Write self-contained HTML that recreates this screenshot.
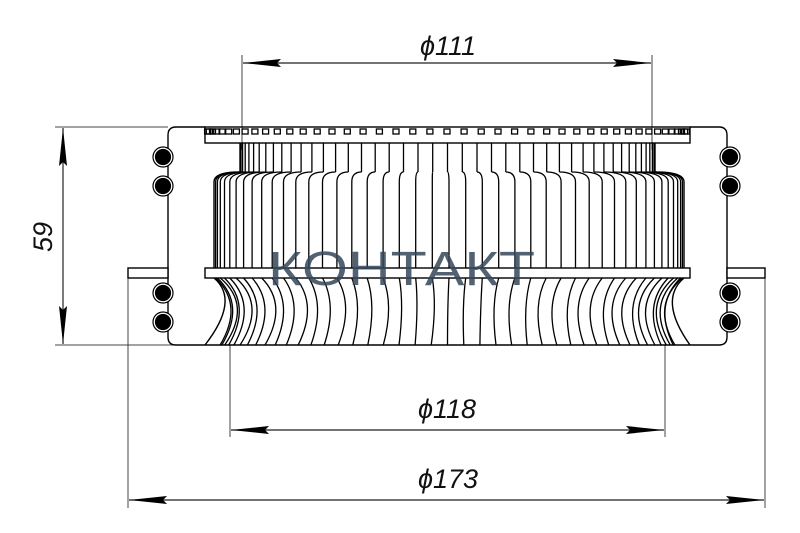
<!DOCTYPE html>
<html><head><meta charset="utf-8"><style>
html,body{margin:0;padding:0;background:#fff;width:800px;height:533px;overflow:hidden}
svg{display:block}
.t{font-family:"Liberation Sans",sans-serif;font-style:italic;font-size:27px;fill:#111}
</style></head><body>
<svg id="s" width="800" height="533" viewBox="0 0 800 533" xmlns="http://www.w3.org/2000/svg">
<defs>
<marker id="a" viewBox="0 0 38 8" refX="38" refY="4" markerWidth="38" markerHeight="8" markerUnits="userSpaceOnUse" orient="auto-start-reverse"><path d="M38,4 L0,0 L4,4 L0,8 Z" fill="#000"/></marker>
</defs>
<g stroke="#444" stroke-width="1" fill="none">
<line x1="242" y1="55" x2="242" y2="150"/><line x1="652" y1="55" x2="652" y2="150"/>
<line x1="55" y1="127" x2="168" y2="127"/><line x1="55" y1="345" x2="205" y2="345"/>
<line x1="230" y1="345" x2="230" y2="437"/><line x1="665" y1="345" x2="665" y2="437"/>
<line x1="128" y1="278" x2="128" y2="508"/><line x1="765" y1="278" x2="765" y2="508"/>
</g>
<g stroke="#222" stroke-width="1.2" fill="none">
<line x1="243" y1="63" x2="651" y2="63" marker-start="url(#a)" marker-end="url(#a)"/>
<line x1="63" y1="128" x2="63" y2="344" marker-start="url(#a)" marker-end="url(#a)"/>
<line x1="231" y1="430" x2="664" y2="430" marker-start="url(#a)" marker-end="url(#a)"/>
<line x1="129" y1="500" x2="764" y2="500" marker-start="url(#a)" marker-end="url(#a)"/>
</g>
<text class="t" x="420" y="55">ϕ111</text>
<text class="t" x="418" y="418">ϕ118</text>
<text class="t" x="418" y="488">ϕ173</text>
<text class="t" transform="translate(52,237) rotate(-90)" text-anchor="middle">59</text>
<g id="body" stroke="#000" stroke-width="1.4" fill="none">
<path d="M205,127 H176 Q168,127 168,135 V337 Q168,345 176,345 H205" fill="#fff"/>
<path d="M690,127 H719 Q727,127 727,135 V337 Q727,345 719,345 H690" fill="#fff"/>
<rect x="128" y="268" width="40" height="10" fill="#fff"/>
<rect x="727" y="268" width="38" height="10" fill="#fff"/>
<rect x="205" y="127" width="485" height="16"/>
<rect x="205" y="268" width="485" height="10"/>
<line x1="205" y1="345" x2="690" y2="345"/>
<path d="M240,143 V172 Q214,172 214,182 V268"/>
<path d="M655,143 V172 Q684,172 684,182 V268"/>
<path d="M214,278 Q240,300 205,345"/>
<path d="M684,278 Q658,300 690,345"/>
</g>
<g id="lines" stroke="#000" stroke-width="1.3" fill="none"></g>
<g fill="#000" stroke="#000" stroke-width="1.2">
<circle cx="163" cy="157" r="10" fill="#fff"/><circle cx="163" cy="186" r="10" fill="#fff"/><circle cx="163" cy="293" r="10" fill="#fff"/><circle cx="163" cy="322" r="10" fill="#fff"/>
<circle cx="730" cy="157" r="10" fill="#fff"/><circle cx="730" cy="186" r="10" fill="#fff"/><circle cx="730" cy="293" r="10" fill="#fff"/><circle cx="730" cy="322" r="10" fill="#fff"/>
<circle cx="163" cy="157" r="7.5"/><circle cx="163" cy="186" r="7.5"/><circle cx="163" cy="293" r="7.5"/><circle cx="163" cy="322" r="7.5"/>
<circle cx="730" cy="157" r="7.5"/><circle cx="730" cy="186" r="7.5"/><circle cx="730" cy="293" r="7.5"/><circle cx="730" cy="322" r="7.5"/>
</g>
<text x="268" y="285" textLength="267" lengthAdjust="spacingAndGlyphs" style="font-family:'Liberation Sans',sans-serif;font-size:48px;fill:#34475a;opacity:0.85">КОНТАКТ</text>
</svg>
<script>
var g=document.getElementById('lines'),h='';
var N=44;
for(var i=1;i<N;i++){
 var th=Math.PI*i/N, c=Math.cos(th);
 var xu=447.5-207*c, xm=449-234*c, xb=447.5-222*c;
 var off=(c<0?-1:1)*6*Math.abs(c);
 var w=(i%3==0)?4:0;
 h+='<line x1="'+xu.toFixed(1)+'" y1="143" x2="'+xu.toFixed(1)+'" y2="172"/>';
 h+='<path d="M'+xu.toFixed(1)+',172 Q'+xm.toFixed(1)+',172 '+xm.toFixed(1)+',182 V268"/>';
 h+='<path d="M'+xm.toFixed(1)+',278 Q'+(xb+off*3+w).toFixed(1)+',305 '+(xb-off).toFixed(1)+',345"/>';
 var tx=447-240*c;
 h+='<rect x="'+(tx-3).toFixed(1)+'" y="129" width="6" height="5"/>';
}
g.innerHTML=h;
</script>
</body></html>
